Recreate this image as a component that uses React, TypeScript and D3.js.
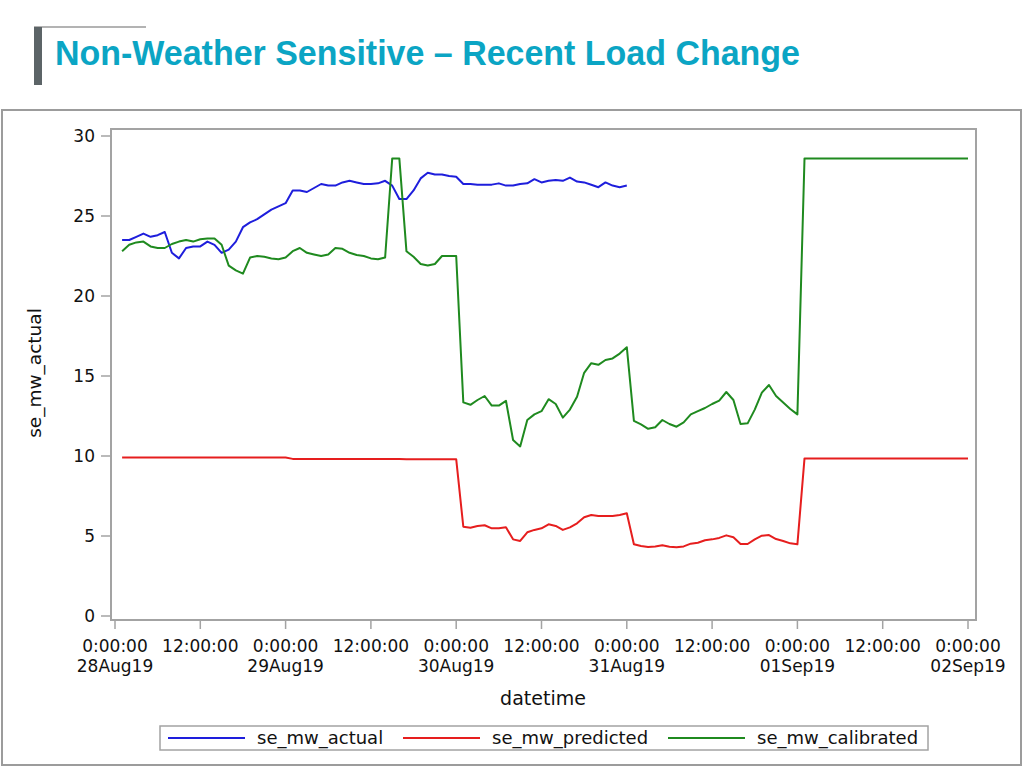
import React from "react";
import * as d3 from "d3";

const seMwActual: number[] = [
  23.5, 23.5, 23.7, 23.9, 23.7, 23.8, 24.0, 22.7, 22.35, 23.0, 23.1, 23.1,
  23.4, 23.2, 22.7, 22.9, 23.4, 24.3, 24.6, 24.8, 25.1, 25.4, 25.6, 25.8,
  26.6, 26.6, 26.5, 26.75, 27.0, 26.9, 26.9, 27.1, 27.2, 27.1, 27.0, 27.0,
  27.04, 27.2, 26.9, 26.06, 26.06, 26.6, 27.35, 27.7, 27.6, 27.6, 27.5, 27.45,
  27.0, 27.0, 26.95, 26.95, 26.96, 27.04, 26.9, 26.9, 27.0, 27.04, 27.3, 27.1,
  27.2, 27.25, 27.2, 27.4, 27.15, 27.1, 26.95, 26.8, 27.1, 26.9, 26.8, 26.9,
];

const seMwPredicted: number[] = [
  9.9, 9.9, 9.9, 9.9, 9.9, 9.9, 9.9, 9.9, 9.9, 9.9, 9.9, 9.9,
  9.9, 9.9, 9.9, 9.9, 9.9, 9.9, 9.9, 9.9, 9.9, 9.9, 9.9, 9.9,
  9.82, 9.82, 9.82, 9.82, 9.82, 9.82, 9.82, 9.82, 9.82, 9.82, 9.82, 9.82,
  9.82, 9.82, 9.82, 9.82, 9.8, 9.8, 9.8, 9.8, 9.8, 9.8, 9.8, 9.8,
  5.58, 5.52, 5.63, 5.67, 5.48, 5.48, 5.54, 4.79, 4.69, 5.23, 5.38, 5.48,
  5.73, 5.63, 5.38, 5.54, 5.79, 6.17, 6.31, 6.25, 6.25, 6.25, 6.31, 6.42,
  4.48, 4.38, 4.31, 4.35, 4.42, 4.33, 4.29, 4.35, 4.52, 4.58, 4.73, 4.79,
  4.88, 5.04, 4.92, 4.5, 4.5, 4.79, 5.02, 5.06, 4.81, 4.69, 4.54, 4.48,
  9.85, 9.85, 9.85, 9.85, 9.85, 9.85, 9.85, 9.85, 9.85, 9.85, 9.85, 9.85,
  9.85, 9.85, 9.85, 9.85, 9.85, 9.85, 9.85, 9.85, 9.85, 9.85, 9.85, 9.85,
];

const seMwCalibrated: number[] = [
  22.8, 23.2, 23.35, 23.4, 23.1, 23.0, 23.0, 23.25, 23.4, 23.5, 23.4, 23.55,
  23.6, 23.6, 23.2, 21.9, 21.6, 21.4, 22.4, 22.5, 22.45, 22.35, 22.3, 22.4,
  22.8, 23.0, 22.7, 22.6, 22.5, 22.6, 23.0, 22.95, 22.7, 22.56, 22.5, 22.35,
  22.3, 22.4, 28.6, 28.6, 22.8, 22.45, 22.0, 21.9, 22.0, 22.5, 22.5, 22.5,
  13.35, 13.2, 13.5, 13.75, 13.15, 13.15, 13.45, 11.0, 10.6, 12.25, 12.6, 12.8,
  13.55, 13.25, 12.4, 12.9, 13.7, 15.2, 15.8, 15.7, 16.0, 16.1, 16.4, 16.8,
  12.2, 11.98, 11.7, 11.8, 12.25, 12.0, 11.83, 12.1, 12.6, 12.8, 13.0, 13.25,
  13.46, 14.0, 13.5, 12.0, 12.04, 12.9, 13.96, 14.44, 13.75, 13.35, 12.94, 12.6,
  28.6, 28.6, 28.6, 28.6, 28.6, 28.6, 28.6, 28.6, 28.6, 28.6, 28.6, 28.6,
  28.6, 28.6, 28.6, 28.6, 28.6, 28.6, 28.6, 28.6, 28.6, 28.6, 28.6, 28.6,
];

// x ticks every 12 hours from 28Aug19 0:00:00
const xTickHours: number[] = [0, 12, 24, 36, 48, 60, 72, 84, 96, 108, 120];
const xTickTimes: string[] = [
  "0:00:00", "12:00:00", "0:00:00", "12:00:00", "0:00:00", "12:00:00",
  "0:00:00", "12:00:00", "0:00:00", "12:00:00", "0:00:00",
];
const xTickDates: string[] = [
  "28Aug19", "", "29Aug19", "", "30Aug19", "", "31Aug19", "", "01Sep19", "", "02Sep19",
];
const yTicks: number[] = [0, 5, 10, 15, 20, 25, 30];

const seriesNames: string[] = ["se_mw_actual", "se_mw_predicted", "se_mw_calibrated"];
const seriesColors: string[] = ["#1e1edc", "#e61e1e", "#1f8a1f"];

const FONT = "'DejaVu Sans', Verdana, sans-serif";

export default function App() {
  const x = d3.scaleLinear().domain([0, 120]).range([115, 968]);
  const y = d3.scaleLinear().domain([0, 30]).range([616, 136]);

  const line = d3
    .line<number>()
    .x((_, i) => x(i + 1))
    .y((d) => y(d));

  const series = [seMwActual, seMwPredicted, seMwCalibrated];

  const frame = { left: 111, right: 976, top: 129, bottom: 620 };
  const axisColor = "#a3a3a3";

  const legendX0 = [168, 403, 668];

  return (
    <svg
      width={1024}
      height={768}
      style={{ position: "absolute", left: 0, top: 0, background: "#fff" }}
    >
      <rect x={0} y={0} width={1024} height={768} fill="#fff" />
      {/* title decoration */}
      <line x1={34} y1={27} x2={146} y2={27} stroke="#9a9a9a" strokeWidth={1.5} />
      <rect x={34} y={27} width={8} height={58} fill="#5c6467" />
      <text
        x={55}
        y={65}
        fontFamily="'Liberation Sans', Arial, sans-serif"
        fontWeight="bold"
        fontSize={35}
        fill="#0ba5c4"
        textLength={745}
        lengthAdjust="spacingAndGlyphs"
      >
        Non-Weather Sensitive – Recent Load Change
      </text>

      {/* outer panel */}
      <rect x={2} y={110} width={1019} height={655} fill="#fff" stroke="#9c9c9c" strokeWidth={2} />

      {/* plot frame */}
      <rect
        x={frame.left}
        y={frame.top}
        width={frame.right - frame.left}
        height={frame.bottom - frame.top}
        fill="none"
        stroke={axisColor}
        strokeWidth={2}
      />

      {/* y axis */}
      {yTicks.map((t) => (
        <g key={"y" + t}>
          <line x1={101} x2={frame.left} y1={y(t)} y2={y(t)} stroke={axisColor} strokeWidth={1.5} />
          <text
            x={95}
            y={y(t) + 6}
            textAnchor="end"
            fontFamily={FONT}
            fontSize={17}
            fill="#111"
          >
            {t}
          </text>
        </g>
      ))}
      <text
        transform={`translate(41,373) rotate(-90)`}
        textAnchor="middle"
        fontFamily={FONT}
        fontSize={18.5}
        fill="#111"
      >
        se_mw_actual
      </text>

      {/* x axis */}
      {xTickHours.map((h, i) => (
        <g key={"x" + h}>
          <line x1={x(h)} x2={x(h)} y1={frame.bottom} y2={629} stroke={axisColor} strokeWidth={1.5} />
          <text x={x(h)} y={652} textAnchor="middle" fontFamily={FONT} fontSize={17} fill="#111">
            {xTickTimes[i]}
          </text>
          {xTickDates[i] && (
            <text x={x(h)} y={672} textAnchor="middle" fontFamily={FONT} fontSize={17} fill="#111">
              {xTickDates[i]}
            </text>
          )}
        </g>
      ))}
      <text x={543} y={705} textAnchor="middle" fontFamily={FONT} fontSize={19} fill="#111">
        datetime
      </text>

      {/* lines */}
      <g fill="none" strokeWidth={2} strokeLinejoin="round">
        {series.map((s, i) => (
          <path key={seriesNames[i]} d={line(s) || ""} stroke={seriesColors[i]} />
        ))}
      </g>

      {/* legend */}
      <rect x={160} y={726} width={768} height={24} fill="#fff" stroke={axisColor} strokeWidth={1.5} />
      {seriesNames.map((n, i) => (
        <g key={"lg" + n}>
          <line
            x1={legendX0[i]}
            x2={legendX0[i] + 77}
            y1={738}
            y2={738}
            stroke={seriesColors[i]}
            strokeWidth={2}
          />
          <text x={legendX0[i] + 89} y={744} fontFamily={FONT} fontSize={18} fill="#111">
            {n}
          </text>
        </g>
      ))}
    </svg>
  );
}
